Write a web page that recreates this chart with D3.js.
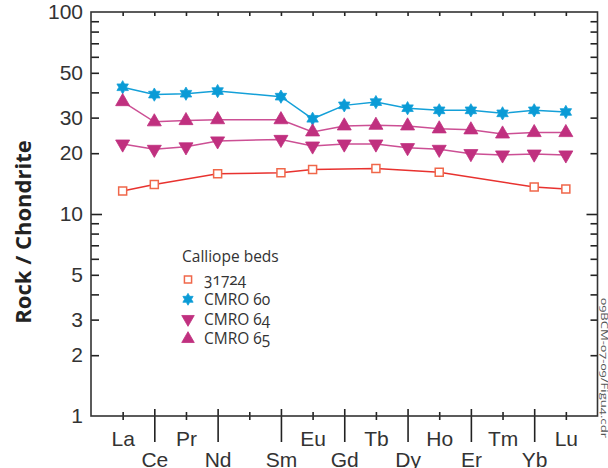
<!DOCTYPE html>
<html>
<head>
<meta charset="utf-8">
<script src="https://cdn.jsdelivr.net/npm/d3@7"></script>
<style>
  body { margin: 0; background: #fff; }
  svg { display: block; font-family: "Open Sans", "Noto Sans", sans-serif; font-variant-numeric: oldstyle-nums; }
</style>
</head>
<body>
<script>
// REE pattern, chondrite normalised
const elements = ["La", "Ce", "Pr", "Nd", "Pm", "Sm", "Eu", "Gd", "Tb", "Dy", "Ho", "Er", "Tm", "Yb", "Lu"];

const s31724 = [13.0, 14.0, null, 15.8, null, 16.0, 16.6, null, 16.8, null, 16.1, null, null, 13.6, 13.3];
const cmro60 = [42.4, 39.0, 39.4, 40.6, null, 38.1, 29.6, 34.5, 35.8, 33.4, 32.6, 32.6, 31.5, 32.6, 32.0];
const cmro64 = [22.2, 20.9, 21.5, 23.0, null, 23.4, 21.7, 22.2, 22.2, 21.3, 20.9, 19.9, 19.6, 19.8, 19.6];
const cmro65 = [36.0, 28.6, 29.0, 29.3, null, 29.3, 25.5, 27.3, 27.5, 27.3, 26.4, 26.1, 24.9, 25.3, 25.3];

const yTicks = [1, 2, 3, 4, 5, 6, 7, 8, 9, 10, 20, 30, 40, 50, 60, 70, 80, 90, 100];
const yLabels = [1, 2, 3, 5, 10, 20, 30, 50, 100];

const width = 608, height = 468;
const mLeft = 91, mRight = 597.5, mTop = 12, mBottom = 416;

// six pointed star
const hexagram = {
    draw: function(ctx, size) {
        const R = Math.sqrt(size), r = R / Math.sqrt(3);
        for (let i = 0; i < 12; i++) {
            const a = -Math.PI / 2 + i * Math.PI / 6,
                  rad = i % 2 == 0 ? R : r;
            if (i == 0) ctx.moveTo(rad * Math.cos(a), rad * Math.sin(a));
            else ctx.lineTo(rad * Math.cos(a), rad * Math.sin(a));
        }
        ctx.closePath();
    }
};

const series = [
    {name: "31724",   values: s31724, line: "#e8322f", stroke: "#f0674a", fill: "#fff", type: d3.symbolSquare, size: 64, rot: 0},
    {name: "CMRO 60", values: cmro60, line: "#14a0d8", stroke: "#14a0d8", fill: "#0a9bd6", type: hexagram, size: 44, rot: 0},
    {name: "CMRO 64", values: cmro64, line: "#cc4f94", stroke: "#c0307f", fill: "#c0307f", type: d3.symbolTriangle, size: 85, rot: 180},
    {name: "CMRO 65", values: cmro65, line: "#cc4f94", stroke: "#c0307f", fill: "#c0307f", type: d3.symbolTriangle, size: 85, rot: 0}
];

const x = d3.scaleLinear().domain([-1, 15]).range([mLeft, mRight]);
const y = d3.scaleLog().domain([1, 100]).range([mBottom, mTop]);

const svg = d3.select("body").append("svg")
    .attr("width", width)
    .attr("height", height);

// left axis
const yAxis = svg.append("g")
    .attr("transform", "translate(" + mLeft + ",0)")
    .call(d3.axisLeft(y).tickValues(yTicks).tickSize(-8).tickPadding(8)
        .tickFormat(function(d) { return yLabels.indexOf(d) >= 0 ? d : ""; }));
yAxis.select(".domain").remove();
yAxis.selectAll(".tick line")
    .attr("stroke", "#222").attr("stroke-width", 1.6)
    .attr("x2", function(d) { return d == 10 ? 11 : (d == 1 || d == 100 ? 0 : 8); });
yAxis.selectAll(".tick text")
    .attr("font-size", 21).attr("fill", "#333");

// right axis
const yAxisR = svg.append("g")
    .attr("transform", "translate(" + mRight + ",0)")
    .call(d3.axisRight(y).tickValues(yTicks).tickSize(-8).tickFormat(""));
yAxisR.select(".domain").remove();
yAxisR.selectAll(".tick line")
    .attr("stroke", "#222").attr("stroke-width", 1.6)
    .attr("x2", function(d) { return d == 10 ? -11 : (d == 1 || d == 100 ? 0 : -7); });

// top axis
const xAxisT = svg.append("g")
    .attr("transform", "translate(0," + mTop + ")")
    .call(d3.axisTop(x).tickValues(d3.range(15)).tickSize(-4).tickFormat(""));
xAxisT.select(".domain").remove();
xAxisT.selectAll(".tick line").attr("stroke", "#222").attr("stroke-width", 1.6);

// bottom axis, staggered labels
const xAxis = svg.append("g")
    .attr("transform", "translate(0," + mBottom + ")")
    .call(d3.axisBottom(x).tickValues(d3.range(15)).tickFormat(function(i) { return i == 4 ? "" : elements[i]; }));
xAxis.select(".domain").remove();
xAxis.selectAll(".tick line")
    .attr("stroke", "#222").attr("stroke-width", 1.6)
    .attr("y1", function(i) { return i % 2 ? -7 : -4; })
    .attr("y2", function(i) { return i % 2 ? 26 : 4; });
xAxis.selectAll(".tick text")
    .attr("font-size", 21).attr("fill", "#333")
    .attr("dy", null)
    .attr("y", function(i) { return i % 2 ? 51 : 30; });

// frame
svg.append("rect")
    .attr("x", mLeft).attr("y", mTop)
    .attr("width", mRight - mLeft).attr("height", mBottom - mTop)
    .attr("fill", "none").attr("stroke", "#333").attr("stroke-width", 1.6);

// lines
const line = d3.line()
    .x(function(d) { return x(d.i); })
    .y(function(d) { return y(d.v); });

series.forEach(function(s) {
    const pts = s.values.map(function(v, i) { return {i: i, v: v}; })
        .filter(function(d) { return d.v != null; });
    svg.append("path")
        .attr("d", line(pts))
        .attr("fill", "none")
        .attr("stroke", s.line)
        .attr("stroke-width", 1.5);
    svg.append("g").selectAll("path")
        .data(pts)
        .enter().append("path")
        .attr("d", d3.symbol().type(s.type).size(s.size))
        .attr("transform", function(d) { return "translate(" + x(d.i) + "," + y(d.v) + ") rotate(" + s.rot + ")"; })
        .attr("fill", s.fill)
        .attr("stroke", s.stroke)
        .attr("stroke-width", s.fill == "#fff" ? 1.5 : 0.8);
});

// legend
const legend = svg.append("g").attr("transform", "translate(182,0)");
legend.append("text")
    .attr("x", 0).attr("y", 262)
    .attr("font-size", 15.5).attr("fill", "#333")
    .text("Calliope beds");
series.forEach(function(s, k) {
    const ly = 279.5 + k * 19.8;
    legend.append("path")
        .attr("d", d3.symbol().type(s.type).size(s.size * 0.8))
        .attr("transform", "translate(6," + ly + ") rotate(" + s.rot + ")")
        .attr("fill", s.fill)
        .attr("stroke", s.stroke)
        .attr("stroke-width", s.fill == "#fff" ? 1.5 : 0.8);
    legend.append("text")
        .attr("x", 22).attr("y", ly + 5.5)
        .attr("font-size", 15.5).attr("fill", "#333")
        .text(s.name);
});

// axis title
svg.append("text")
    .attr("transform", "translate(31,232) rotate(-90)")
    .attr("text-anchor", "middle")
    .attr("font-size", 22).attr("font-weight", "bold").attr("fill", "#222")
    .text("Rock / Chondrite");

// file tag
svg.append("text")
    .attr("transform", "translate(601,368) rotate(90)")
    .attr("text-anchor", "middle")
    .attr("font-size", 9).attr("fill", "#555")
    .attr("textLength", 140).attr("lengthAdjust", "spacingAndGlyphs")
    .text("09BCM-07-09/Figu4.cdr");
</script>
</body>
</html>
